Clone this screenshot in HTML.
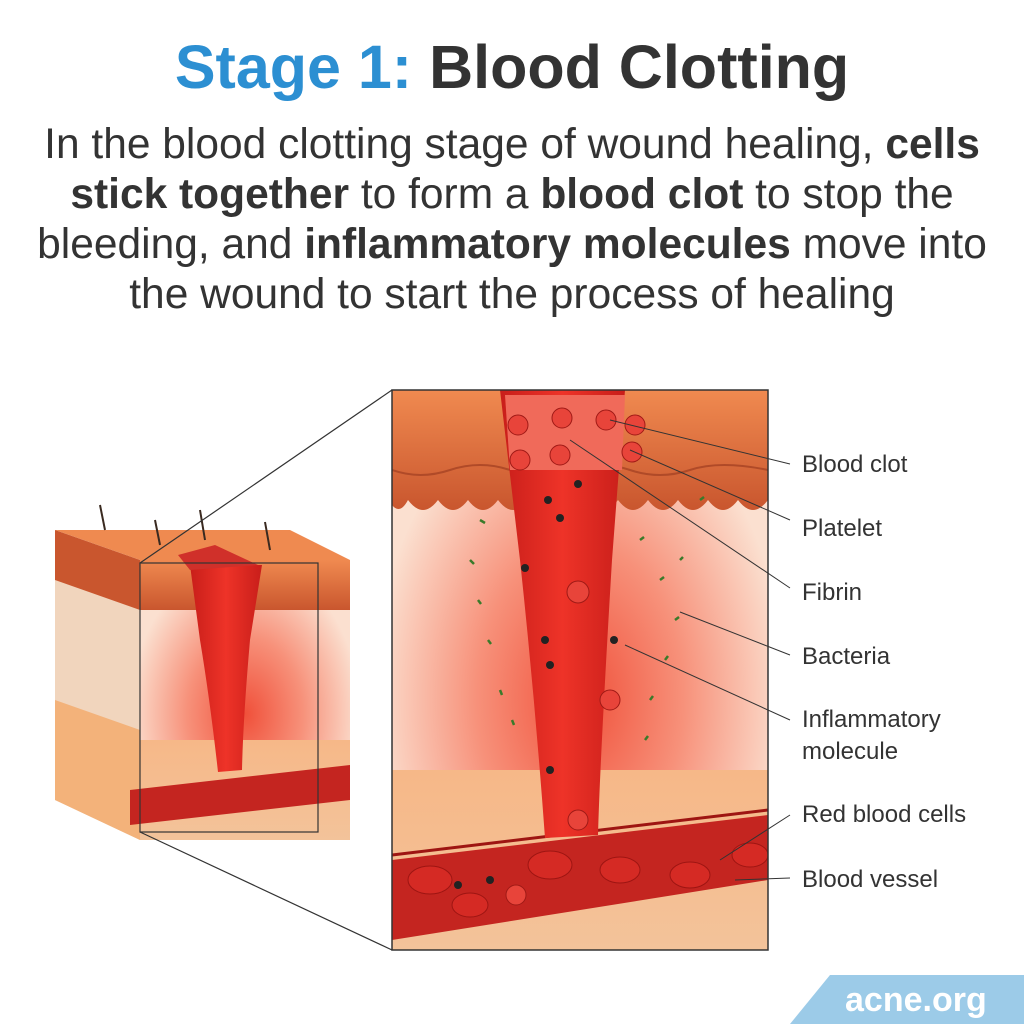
<!DOCTYPE html>
<html><head><meta charset="utf-8"><style>
body{margin:0;background:#fff;width:1024px;height:1024px;overflow:hidden;font-family:"Liberation Sans",sans-serif}
</style></head><body>
<svg width="1024" height="1024" viewBox="0 0 1024 1024" xmlns="http://www.w3.org/2000/svg" font-family="Liberation Sans, sans-serif">
<defs>
<radialGradient id="glow" cx="0.5" cy="0.55" r="0.55">
<stop offset="0" stop-color="#f0503a"/><stop offset="0.5" stop-color="#f7917a"/><stop offset="1" stop-color="#fbe0d0"/></radialGradient>
<linearGradient id="skin" x1="0" y1="0" x2="0" y2="1"><stop offset="0" stop-color="#f08a50"/><stop offset="1" stop-color="#c9562e"/></linearGradient>
<linearGradient id="clot" x1="0" y1="0" x2="1" y2="0"><stop offset="0" stop-color="#c81e1a"/><stop offset="0.5" stop-color="#ee3328"/><stop offset="1" stop-color="#c81e1a"/></linearGradient>
<linearGradient id="fat" x1="0" y1="0" x2="0" y2="1"><stop offset="0" stop-color="#f6b888"/><stop offset="1" stop-color="#f3c39a"/></linearGradient>
<clipPath id="bp"><rect x="392" y="390" width="376" height="560"/></clipPath>
</defs>
<text x="512" y="88" text-anchor="middle" font-size="61" font-weight="bold"><tspan fill="#2c8fd2">Stage 1:</tspan><tspan fill="#333"> Blood Clotting</tspan></text>
<g font-size="42.5" fill="#333" text-anchor="middle">
<text x="512" y="158">In the blood clotting stage of wound healing, <tspan font-weight="bold">cells</tspan></text>
<text x="512" y="208"><tspan font-weight="bold">stick together</tspan> to form a <tspan font-weight="bold">blood clot</tspan> to stop the</text>
<text x="512" y="258">bleeding, and <tspan font-weight="bold">inflammatory molecules</tspan> move into</text>
<text x="512" y="308">the wound to start the process of healing</text>
</g>
<!-- big panel -->
<g clip-path="url(#bp)">
<rect x="392" y="390" width="376" height="560" fill="url(#glow)"/>
<rect x="392" y="770" width="376" height="180" fill="url(#fat)"/>
<path d="M392 390H768V500Q753 520 738 500Q723 520 708 500Q693 520 678 500Q663 520 648 500Q633 520 618 500Q603 520 588 500Q573 520 558 500Q543 520 528 500Q513 520 498 500Q483 520 468 500Q453 520 438 500Q423 520 408 500Q400 515 392 505Z" fill="url(#skin)"/>
<path d="M392 470Q420 480 450 470T510 470T570 470T630 470T690 470T768 470" stroke="#b04a28" stroke-width="2" fill="none"/>
<path d="M392 860L768 815L768 880L392 940Z" fill="#c42520"/>
<path d="M392 855L768 810" stroke="#9e1512" stroke-width="3"/>
<path d="M500 390H625L612 560Q600 760 598 835L545 838Q535 700 520 560Z" fill="url(#clot)"/>
<path d="M505 395H625L622 470H510Z" fill="#f06a5a"/>
<g fill="#d52a24" stroke="#9e1512">
<ellipse cx="430" cy="880" rx="22" ry="14"/><ellipse cx="550" cy="865" rx="22" ry="14"/><ellipse cx="620" cy="870" rx="20" ry="13"/><ellipse cx="690" cy="875" rx="20" ry="13"/><ellipse cx="750" cy="855" rx="18" ry="12"/><ellipse cx="470" cy="905" rx="18" ry="12"/>
</g>
<g fill="#e8443a" stroke="#a01a16">
<circle cx="518" cy="425" r="10"/><circle cx="562" cy="418" r="10"/><circle cx="606" cy="420" r="10"/><circle cx="635" cy="425" r="10"/><circle cx="520" cy="460" r="10"/><circle cx="560" cy="455" r="10"/><circle cx="632" cy="452" r="10"/><circle cx="578" cy="592" r="11"/><circle cx="610" cy="700" r="10"/><circle cx="578" cy="820" r="10"/><circle cx="516" cy="895" r="10"/>
</g>
<g fill="#222"><circle cx="548" cy="500" r="4"/><circle cx="560" cy="518" r="4"/><circle cx="578" cy="484" r="4"/><circle cx="525" cy="568" r="4"/><circle cx="545" cy="640" r="4"/><circle cx="550" cy="665" r="4"/><circle cx="614" cy="640" r="4"/><circle cx="550" cy="770" r="4"/><circle cx="458" cy="885" r="4"/><circle cx="490" cy="880" r="4"/></g>
<g stroke="#3a7a2a" stroke-width="2.5"><path d="M480 520l5 3M470 560l4 4M478 600l3 4M488 640l3 4M500 690l2 5M512 720l2 5M640 540l4-3M660 580l4-3M675 620l4-3M665 660l3-4M650 700l3-4M645 740l3-4M700 500l4-3M680 560l3-3"/></g>
</g>
<rect x="392" y="390" width="376" height="560" fill="none" stroke="#333" stroke-width="1.5"/>
<!-- small block -->
<path d="M55 530L290 530L350 560L140 560Z" fill="#ef8a50"/>
<path d="M55 530L140 560L140 840L55 800Z" fill="#f1d5bd"/>
<path d="M55 530L140 560L140 610L55 580Z" fill="#c9562e"/>
<path d="M55 700L140 730L140 840L55 800Z" fill="#f3b27a"/>
<rect x="140" y="560" width="210" height="280" fill="url(#glow)"/>
<rect x="140" y="560" width="210" height="50" fill="url(#skin)"/>
<rect x="140" y="740" width="210" height="100" fill="url(#fat)"/>
<path d="M130 790L350 765L350 800L130 825Z" fill="#c42520"/>
<path d="M190 565H262L250 640Q243 720 242 770L218 772Q210 700 200 640Z" fill="url(#clot)"/>
<path d="M178 555L215 545L258 565L190 570Z" fill="#d0302a"/>
<g stroke="#3a2a20" stroke-width="2"><path d="M105 530L100 505M160 545L155 520M205 540L200 510M270 550L265 522"/></g>
<rect x="140" y="563" width="178" height="269" fill="none" stroke="#333" stroke-width="1.2"/>
<path d="M140 563L392 390M140 832L392 950" stroke="#333" stroke-width="1.2"/>
<!-- labels -->
<g stroke="#333" stroke-width="1"><path d="M610 420L790 464M630 450L790 520M570 440L790 588M680 612L790 655M625 645L790 720M720 860L790 815M735 880L790 878"/></g>
<g font-size="24" fill="#333">
<text x="802" y="472">Blood clot</text><text x="802" y="536">Platelet</text><text x="802" y="600">Fibrin</text><text x="802" y="664">Bacteria</text><text x="802" y="727">Inflammatory</text><text x="802" y="759">molecule</text><text x="802" y="822">Red blood cells</text><text x="802" y="887">Blood vessel</text>
</g>
<path d="M830 975H1024V1024H790Z" fill="#9ccbe8"/>
<text x="845" y="1011" font-size="34" font-weight="bold" fill="#fff">acne.org</text>
</svg>
</body></html>
